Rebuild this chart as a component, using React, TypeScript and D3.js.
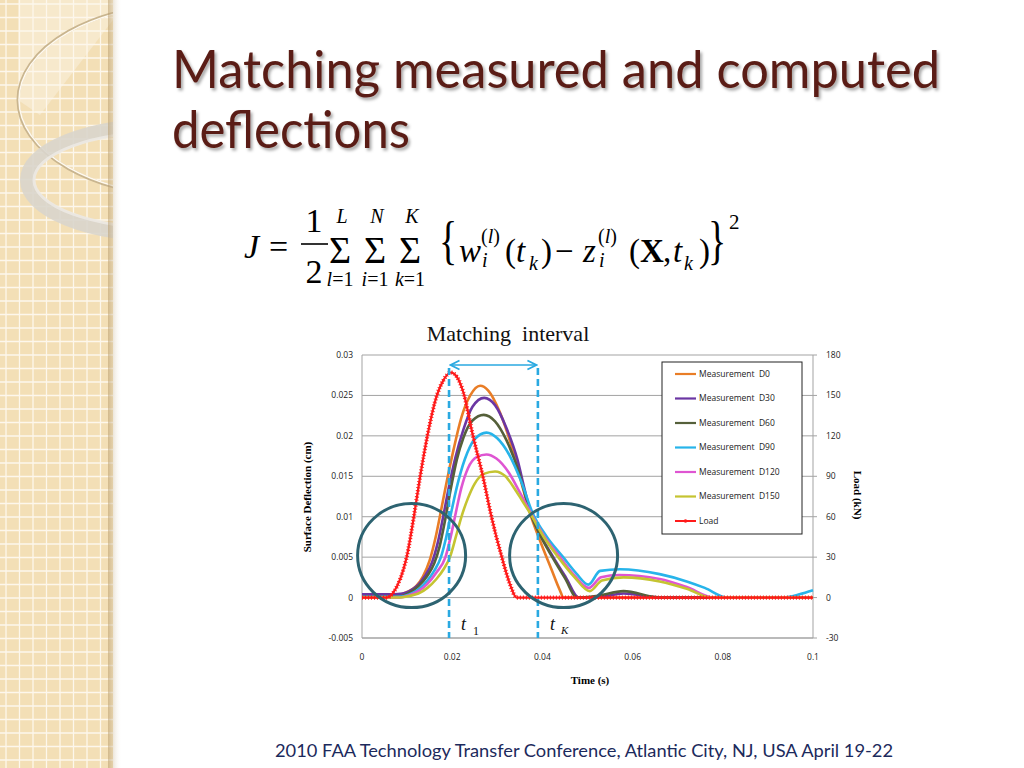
import * as d3 from "d3";

// axis ticks
const timeTicks = [0, 0.02, 0.04, 0.06, 0.08, 0.1];
const deflTicks = [-0.005, 0, 0.005, 0.01, 0.015, 0.02, 0.025, 0.03];
const loadTicks = [-30, 0, 30, 60, 90, 120, 150, 180];

// matching interval bounds (s)
const intervalStart = 0.0193;
const intervalEnd = 0.039;

// load history [time s, kN]
const loadCurve: [number, number][] = [
  [0, 0], [0.004, 0], [0.0055, 0], [0.007, 4], [0.0085, 14], [0.0099, 30],
  [0.0115, 60], [0.0129, 90], [0.0145, 120], [0.0166, 150], [0.018, 161],
  [0.0197, 167], [0.021, 164], [0.0225, 152], [0.0246, 120], [0.0268, 90],
  [0.0287, 60], [0.031, 30], [0.0328, 10], [0.0343, 0], [0.1, 0],
];

// measured deflections [time s, cm]
const d0: [number, number][] = [
  [0, 0.0002], [0.006, 0.0002], [0.008, 0.0003], [0.01, 0.0007], [0.012, 0.0014],
  [0.0135, 0.0026], [0.015, 0.0046], [0.0163, 0.0074], [0.0175, 0.0107], [0.0188, 0.0144],
  [0.0203, 0.0183], [0.022, 0.0222], [0.024, 0.025], [0.0262, 0.0262], [0.028, 0.0256],
  [0.0305, 0.023], [0.033, 0.019], [0.0352, 0.0145], [0.0372, 0.0105], [0.0395, 0.007],
  [0.042, 0.0035], [0.0438, 0.001], [0.0447, 0], [0.1, 0],
];
const d30: [number, number][] = [
  [0, 0.0004], [0.007, 0.0004], [0.009, 0.0005], [0.0105, 0.0008], [0.0125, 0.0016],
  [0.014, 0.0027], [0.0155, 0.0043], [0.0168, 0.0068], [0.018, 0.01], [0.0192, 0.0135],
  [0.0207, 0.0173], [0.0225, 0.0208], [0.0245, 0.0236], [0.0271, 0.0247], [0.0295, 0.0238],
  [0.032, 0.021], [0.0345, 0.017], [0.036, 0.0135], [0.0374, 0.0105], [0.0398, 0.0075],
  [0.0424, 0.005], [0.0452, 0.0025], [0.0481, 0], [0.053, 0.0001], [0.058, 0.0005],
  [0.064, 0.0001], [0.066, 0], [0.1, 0],
];
const d60: [number, number][] = [
  [0, 0.0001], [0.008, 0.0001], [0.0105, 0.0006], [0.0125, 0.0014], [0.0145, 0.0027],
  [0.016, 0.0042], [0.0172, 0.0063], [0.0184, 0.0095], [0.0197, 0.0135], [0.021, 0.017],
  [0.0225, 0.0198], [0.0245, 0.0219], [0.027, 0.0226], [0.0295, 0.0218], [0.032, 0.0195],
  [0.0348, 0.0155], [0.0373, 0.0105], [0.0397, 0.0075], [0.0422, 0.005], [0.045, 0.0024],
  [0.0477, 0], [0.052, 0.0002], [0.058, 0.0008], [0.0646, 0.0001], [0.066, 0], [0.1, 0],
];
const d90: [number, number][] = [
  [0, 0.0001], [0.008, 0.0001], [0.0105, 0.0004], [0.0125, 0.001], [0.0145, 0.0021],
  [0.016, 0.0033], [0.0175, 0.005], [0.0186, 0.0073], [0.0197, 0.0103], [0.021, 0.0136],
  [0.0228, 0.0171], [0.025, 0.0196], [0.0276, 0.0204], [0.03, 0.0197], [0.0328, 0.0175],
  [0.0352, 0.0145], [0.0378, 0.0105], [0.041, 0.0075], [0.0446, 0.005], [0.0475, 0.003],
  [0.0502, 0.0016], [0.0528, 0.0033], [0.0572, 0.0035], [0.066, 0.0029], [0.072, 0.002],
  [0.076, 0.0012], [0.081, 0], [0.093, 0], [0.097, 0.0004], [0.1, 0.0009],
];
const d120: [number, number][] = [
  [0, 0], [0.008, 0], [0.0105, 0.0003], [0.0125, 0.0008], [0.0145, 0.0017],
  [0.0165, 0.0031], [0.0185, 0.005], [0.0197, 0.0076], [0.0208, 0.0105], [0.022, 0.0135],
  [0.0235, 0.016], [0.0255, 0.0174], [0.0276, 0.0177], [0.0298, 0.0172], [0.0325, 0.0155],
  [0.035, 0.013], [0.0374, 0.0105], [0.0405, 0.0075], [0.0439, 0.005], [0.047, 0.0028],
  [0.0503, 0.0012], [0.053, 0.0025], [0.057, 0.0028], [0.066, 0.0023], [0.072, 0.0013],
  [0.078, 0], [0.1, 0],
];
const d150: [number, number][] = [
  [0, 0], [0.008, 0], [0.0105, 0.0002], [0.0125, 0.0005], [0.0145, 0.0012],
  [0.0165, 0.0023], [0.0182, 0.0036], [0.0195, 0.005], [0.0208, 0.0075], [0.022, 0.0099],
  [0.0235, 0.0123], [0.025, 0.0141], [0.027, 0.0153], [0.0295, 0.0156], [0.0318, 0.015],
  [0.0338, 0.0135], [0.0355, 0.012], [0.0372, 0.0105], [0.0403, 0.0075], [0.0435, 0.005],
  [0.047, 0.0026], [0.0505, 0.0008], [0.0532, 0.0021], [0.058, 0.0025], [0.066, 0.002],
  [0.072, 0.0011], [0.0775, 0], [0.1, 0],
];

const measurements = [d0, d30, d60, d90, d120, d150];
const seriesNames = [
  "Measurement  D0", "Measurement  D30", "Measurement  D60",
  "Measurement  D90", "Measurement  D120", "Measurement  D150",
];
const seriesColors = ["#e97d26", "#6b36a3", "#55603a", "#27b4ea", "#df55d2", "#c5c431"];
const loadName = "Load";
const loadColor = "#ff1a1a";

// summation limits of the objective function
const sumUpper = ["L", "N", "K"];
const sumIndex = ["l", "i", "k"];

const W = 1024;
const H = 768;
const sans = "'Open Sans', 'Liberation Sans', sans-serif";
const serif = "'Liberation Serif', 'DejaVu Serif', serif";
const gill = "Lato, 'Open Sans', sans-serif";

export default function App() {
  const x = d3.scaleLinear().domain([0, 0.1]).range([362, 813]);
  const y = d3.scaleLinear().domain([-0.005, 0.03]).range([638, 355]);
  const yLoad = d3.scaleLinear().domain([-30, 180]).range([638, 355]);

  const line = d3
    .line<[number, number]>()
    .x((d) => x(d[0]))
    .y((d) => y(d[1]))
    .curve(d3.curveMonotoneX);
  const loadLine = d3
    .line<[number, number]>()
    .x((d) => x(d[0]))
    .y((d) => yLoad(d[1]))
    .curve(d3.curveMonotoneX);

  const [x0, x1] = x.range();
  const yTop = y(0.03);
  const yBot = y(-0.005);

  // sidebar grid
  const gridStep = 13.5;
  const gridV = d3.range(6, 113, gridStep);
  const gridH = d3.range(4, H, gridStep);

  const ellipseR = 53;
  const ellipses = [
    { t: 0.011, v: 0.0052 },
    { t: 0.0447, v: 0.0052 },
  ];

  const legendRowY = (i: number) => 374 + i * 24.5;
  const pre = { whiteSpace: "pre" as const };

  return (
    <svg
      width={W}
      height={H}
      viewBox={`0 0 ${W} ${H}`}
      style={{ position: "absolute", left: 0, top: 0, background: "#fff" }}
    >
      <defs>
        <clipPath id="side">
          <rect x={0} y={0} width={113} height={H} />
        </clipPath>
        <linearGradient id="edge" x1="0" x2="1" y1="0" y2="0">
          <stop offset="0" stopColor="#b79a6a" stopOpacity={0.55} />
          <stop offset="0.35" stopColor="#c8b490" stopOpacity={0.35} />
          <stop offset="1" stopColor="#ffffff" stopOpacity={0} />
        </linearGradient>
        <filter id="tshadow" x="-5%" y="-20%" width="110%" height="150%">
          <feDropShadow dx={2} dy={2.5} stdDeviation={1.5} floodColor="#000" floodOpacity={0.35} />
        </filter>
        <marker id="arrowHead" viewBox="0 0 10 10" refX={9} refY={5} markerWidth={7} markerHeight={7} orient="auto-start-reverse">
          <path d="M1,1 L9,5 L1,9" fill="none" stroke="#2aa9e1" strokeWidth={1.6} />
        </marker>
      </defs>

      {/* sidebar */}
      <rect x={0} y={0} width={113} height={H} fill="#f3dfb6" />
      <g clipPath="url(#side)">
        <path d="M113,20 L40,115 L18,100 L18,0 L113,0 Z" fill="#f8ecd6" opacity={0.7} />
        {gridV.map((gx) => (
          <line key={`gv${gx}`} x1={gx} x2={gx} y1={0} y2={H} stroke="#fdf7ec" strokeWidth={1.3} />
        ))}
        {gridH.map((gy) => (
          <line key={`gh${gy}`} x1={0} x2={113} y1={gy} y2={gy} stroke="#fdf7ec" strokeWidth={1.3} />
        ))}
        <ellipse cx={190} cy={100} rx={172} ry={97} fill="none" stroke="#c9b58f" strokeWidth={3} />
        <ellipse cx={190} cy={100} rx={171} ry={96} fill="none" stroke="#fffaf0" strokeWidth={1.5} />
        <ellipse cx={165} cy={180} rx={138} ry={55} fill="none" stroke="#d9d5cc" strokeWidth={14} opacity={0.9} />
        <ellipse cx={165} cy={180} rx={131} ry={48} fill="none" stroke="#ece9e3" strokeWidth={3} opacity={0.9} />
      </g>
      <rect x={108} y={0} width={14} height={H} fill="url(#edge)" />

      {/* title */}
      <g fill="#5a1d14" fontFamily={gill} fontSize={52} filter="url(#tshadow)">
        <text x={172} y={88} textLength={768} lengthAdjust="spacingAndGlyphs">
          Matching measured and computed
        </text>
        <text x={172} y={148} textLength={238} lengthAdjust="spacingAndGlyphs">
          deflections
        </text>
      </g>

      {/* objective function */}
      <g fontFamily={serif} fill="#000">
        <text x={244} y={258} fontSize={34} fontStyle="italic">J</text>
        <text x={269} y={258} fontSize={34}>=</text>
        <text x={314} y={232} fontSize={34} textAnchor="middle">1</text>
        <line x1={301} x2={328} y1={244} y2={244} stroke="#000" strokeWidth={1.6} />
        <text x={314} y={283} fontSize={34} textAnchor="middle">2</text>
        {[340, 375, 410].map((sx, i) => (
          <g key={`sum${i}`}>
            <text x={sx} y={263} fontSize={38} textAnchor="middle">Σ</text>
            <text x={sx + 2} y={223} fontSize={20} fontStyle="italic" textAnchor="middle">
              {sumUpper[i]}
            </text>
            <text x={sx} y={286} fontSize={20} textAnchor="middle">
              <tspan fontStyle="italic">{sumIndex[i]}</tspan>=1
            </text>
          </g>
        ))}
        <text transform="translate(439,258) scale(1,1.4)" fontSize={38}>{"{"}</text>
        <text x={459} y={262} fontSize={33} fontStyle="italic">w</text>
        <text x={481} y={243} fontSize={20}>(<tspan fontStyle="italic">l</tspan>)</text>
        <text x={482} y={267} fontSize={20} fontStyle="italic">i</text>
        <text x={505} y={262} fontSize={33}>(<tspan fontStyle="italic">t</tspan></text>
        <text x={529} y={270} fontSize={20} fontStyle="italic">k</text>
        <text x={541} y={262} fontSize={33}>)</text>
        <text x={555} y={262} fontSize={33}>−</text>
        <text x={583} y={262} fontSize={33} fontStyle="italic">z</text>
        <text x={598} y={243} fontSize={20}>(<tspan fontStyle="italic">l</tspan>)</text>
        <text x={599} y={267} fontSize={20} fontStyle="italic">i</text>
        <text x={629} y={262} fontSize={33}>(</text>
        <text x={640} y={262} fontSize={33} fontWeight="bold">X</text>
        <text x={663} y={262} fontSize={33}>,</text>
        <text x={673} y={262} fontSize={33} fontStyle="italic">t</text>
        <text x={684} y={270} fontSize={20} fontStyle="italic">k</text>
        <text x={699} y={262} fontSize={33}>)</text>
        <text transform="translate(708,258) scale(1,1.4)" fontSize={38}>{"}"}</text>
        <text x={729} y={229} fontSize={21}>2</text>
      </g>

      {/* chart */}
      <text x={508} y={341} fontFamily={serif} fontSize={22} textAnchor="middle" fill="#111" style={pre}>
        Matching  interval
      </text>

      {deflTicks.map((t) => (
        <line key={`g${t}`} x1={x0} x2={x1 + 4} y1={y(t)} y2={y(t)} stroke="#a3a3a3" strokeWidth={1} />
      ))}
      <line x1={x0} x2={x0} y1={yTop} y2={yBot} stroke="#a3a3a3" strokeWidth={1} />
      <line x1={x1} x2={x1} y1={yTop} y2={yBot} stroke="#a3a3a3" strokeWidth={1} />
      <line x1={x0} x2={x1} y1={yBot} y2={yBot} stroke="#a3a3a3" strokeWidth={1} />

      <g fontFamily={sans} fontSize={8.5} fill="#222">
        {deflTicks.map((t) => (
          <text key={`ly${t}`} x={353} y={y(t)} dy="0.35em" textAnchor="end">
            {String(+t.toFixed(3))}
          </text>
        ))}
        {loadTicks.map((t) => (
          <text key={`ry${t}`} x={826} y={yLoad(t)} dy="0.35em" textAnchor="start">
            {String(t)}
          </text>
        ))}
        {timeTicks.map((t) => (
          <text key={`tx${t}`} x={x(t)} y={660} textAnchor="middle">
            {String(+t.toFixed(2))}
          </text>
        ))}
      </g>

      <g fontFamily={serif} fontSize={11} fontWeight="bold" fill="#000">
        <text transform="translate(311,497) rotate(-90)" textAnchor="middle">
          Surface Deflection (cm)
        </text>
        <text transform="translate(854,495) rotate(90)" textAnchor="middle">
          Load (kN)
        </text>
        <text x={590} y={684} textAnchor="middle">Time (s)</text>
      </g>

      {measurements.map((s, i) => (
        <path key={`m${i}`} d={line(s) ?? ""} fill="none" stroke={seriesColors[i]} strokeWidth={2.6} />
      ))}

      <path d={loadLine(loadCurve) ?? ""} fill="none" stroke={loadColor} strokeWidth={2.2} />
      <path
        d={loadLine(loadCurve) ?? ""}
        fill="none"
        stroke={loadColor}
        strokeWidth={4.2}
        strokeDasharray="1 2"
      />

      {/* matching interval */}
      {[intervalStart, intervalEnd].map((t) => (
        <line
          key={`iv${t}`}
          x1={x(t)}
          x2={x(t)}
          y1={368}
          y2={yBot}
          stroke="#2aa9e1"
          strokeWidth={2.6}
          strokeDasharray="7 4"
        />
      ))}
      <line
        x1={x(intervalStart) + 1.5}
        x2={x(intervalEnd) - 1.5}
        y1={365}
        y2={365}
        stroke="#2aa9e1"
        strokeWidth={1.6}
        markerStart="url(#arrowHead)"
        markerEnd="url(#arrowHead)"
      />
      <g fontFamily={serif} fontStyle="italic" fill="#111">
        <text x={x(intervalStart) + 12} y={630} fontSize={18}>t</text>
        <text x={x(intervalStart) + 24} y={635} fontSize={12} fontStyle="normal">1</text>
        <text x={x(intervalEnd) + 12} y={630} fontSize={18}>t</text>
        <text x={x(intervalEnd) + 23} y={634} fontSize={11}>K</text>
      </g>

      {ellipses.map((e, i) => (
        <ellipse
          key={`e${i}`}
          cx={x(e.t)}
          cy={y(e.v)}
          rx={ellipseR + 1}
          ry={ellipseR - 1}
          fill="none"
          stroke="#2d6371"
          strokeWidth={3}
        />
      ))}

      {/* legend */}
      <rect x={662} y={362} width={140} height={172} fill="#fff" stroke="#222" strokeWidth={1} />
      <g fontFamily={sans} fontSize={8.5} fill="#222">
        {seriesNames.map((n, i) => (
          <g key={`lg${i}`}>
            <line x1={675} x2={696} y1={legendRowY(i)} y2={legendRowY(i)} stroke={seriesColors[i]} strokeWidth={2.2} />
            <text x={699} y={legendRowY(i)} dy="0.35em" style={pre}>{n}</text>
          </g>
        ))}
        <line x1={675} x2={696} y1={legendRowY(6)} y2={legendRowY(6)} stroke={loadColor} strokeWidth={2} />
        <circle cx={685.5} cy={legendRowY(6)} r={1.8} fill={loadColor} />
        <text x={699} y={legendRowY(6)} dy="0.35em">{loadName}</text>
      </g>

      {/* footer */}
      <text x={275} y={757} fontFamily={gill} fontSize={17} fill="#1c2a5c" textLength={618} lengthAdjust="spacingAndGlyphs">
        2010 FAA Technology Transfer Conference, Atlantic City, NJ, USA April 19-22
      </text>
    </svg>
  );
}
